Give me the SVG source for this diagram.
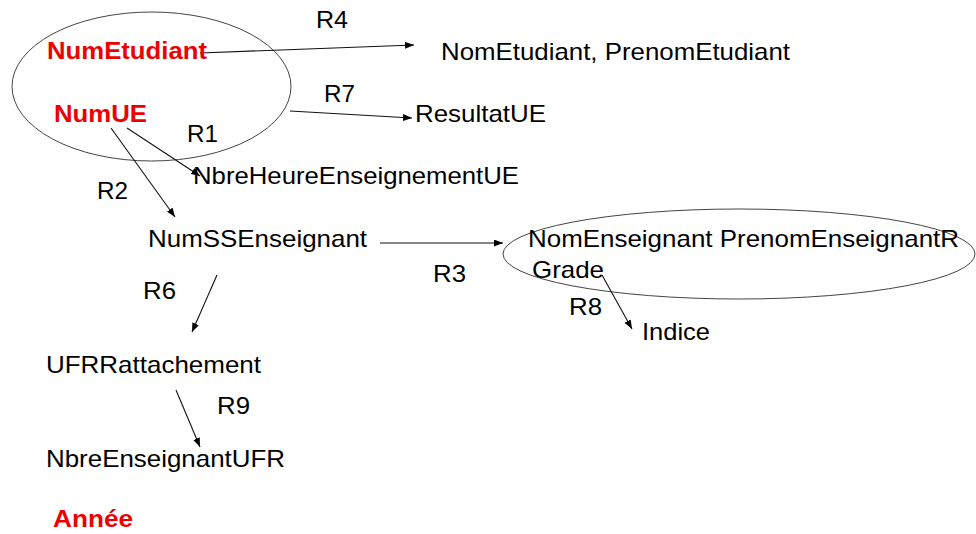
<svg xmlns="http://www.w3.org/2000/svg" width="976" height="534" viewBox="0 0 976 534">
<defs>
<marker id="ah" markerUnits="userSpaceOnUse" markerWidth="9" markerHeight="7" refX="9" refY="3.5" orient="auto">
<path d="M0,0 L9,3.5 L0,7 z" fill="#000"/>
</marker>
<style>
text{font-family:"Liberation Sans",Arial,sans-serif;font-size:24px;fill:#000}
.key{font-weight:bold;fill:#ee0000}
.grp{fill:none;stroke:#444;stroke-width:1}
.edge{fill:none;stroke:#111;stroke-width:1.1;marker-end:url(#ah)}
</style>
</defs>
<rect width="976" height="534" fill="#fff"/>
<g id="groups">
<ellipse class="grp" cx="151.5" cy="86.5" rx="139.5" ry="74.5"/>
<ellipse class="grp" cx="739" cy="254" rx="236" ry="45"/>
</g>
<g id="connectors">
<line class="edge" x1="200" y1="53" x2="414" y2="45"/>
<line class="edge" x1="290" y1="111" x2="412" y2="118"/>
<line class="edge" x1="127" y1="128" x2="200" y2="176"/>
<line class="edge" x1="111" y1="128" x2="175" y2="217"/>
<line class="edge" x1="380" y1="243" x2="503" y2="243"/>
<line class="edge" x1="217" y1="275" x2="192" y2="332"/>
<line class="edge" x1="602" y1="275" x2="632" y2="329"/>
<line class="edge" x1="176" y1="390" x2="200" y2="447"/>
<text x="316" y="28" textLength="32" lengthAdjust="spacingAndGlyphs">R4</text>
<text x="324" y="102" textLength="31" lengthAdjust="spacingAndGlyphs">R7</text>
<text x="187" y="142" textLength="31" lengthAdjust="spacingAndGlyphs">R1</text>
<text x="97" y="199" textLength="31" lengthAdjust="spacingAndGlyphs">R2</text>
<text x="433" y="282" textLength="33" lengthAdjust="spacingAndGlyphs">R3</text>
<text x="143" y="299" textLength="33" lengthAdjust="spacingAndGlyphs">R6</text>
<text x="569" y="315" textLength="33" lengthAdjust="spacingAndGlyphs">R8</text>
<text x="217" y="414" textLength="33" lengthAdjust="spacingAndGlyphs">R9</text>
</g>
<g id="n-numetudiant"><text class="key" x="47" y="59" textLength="160" lengthAdjust="spacingAndGlyphs">NumEtudiant</text></g>
<g id="n-numue"><text class="key" x="54" y="122" textLength="93" lengthAdjust="spacingAndGlyphs">NumUE</text></g>
<g id="n-nometudiant"><text x="441" y="60" textLength="349" lengthAdjust="spacingAndGlyphs">NomEtudiant, PrenomEtudiant</text></g>
<g id="n-resultatue"><text x="415" y="122" textLength="131" lengthAdjust="spacingAndGlyphs">ResultatUE</text></g>
<g id="n-nbreheure"><text x="193" y="184" textLength="326" lengthAdjust="spacingAndGlyphs">NbreHeureEnseignementUE</text></g>
<g id="n-numss"><text x="148" y="247" textLength="219" lengthAdjust="spacingAndGlyphs">NumSSEnseignant</text></g>
<g id="n-nomens"><text x="528" y="247" textLength="431" lengthAdjust="spacingAndGlyphs">NomEnseignant PrenomEnseignantR</text></g>
<g id="n-grade"><text x="532" y="278" textLength="72" lengthAdjust="spacingAndGlyphs">Grade</text></g>
<g id="n-indice"><text x="642" y="340" textLength="68" lengthAdjust="spacingAndGlyphs">Indice</text></g>
<g id="n-ufr"><text x="46" y="373" textLength="215" lengthAdjust="spacingAndGlyphs">UFRRattachement</text></g>
<g id="n-nbreens"><text x="46" y="467" textLength="239" lengthAdjust="spacingAndGlyphs">NbreEnseignantUFR</text></g>
<g id="n-annee"><text class="key" x="53" y="527" textLength="80" lengthAdjust="spacingAndGlyphs">Année</text></g>
</svg>
